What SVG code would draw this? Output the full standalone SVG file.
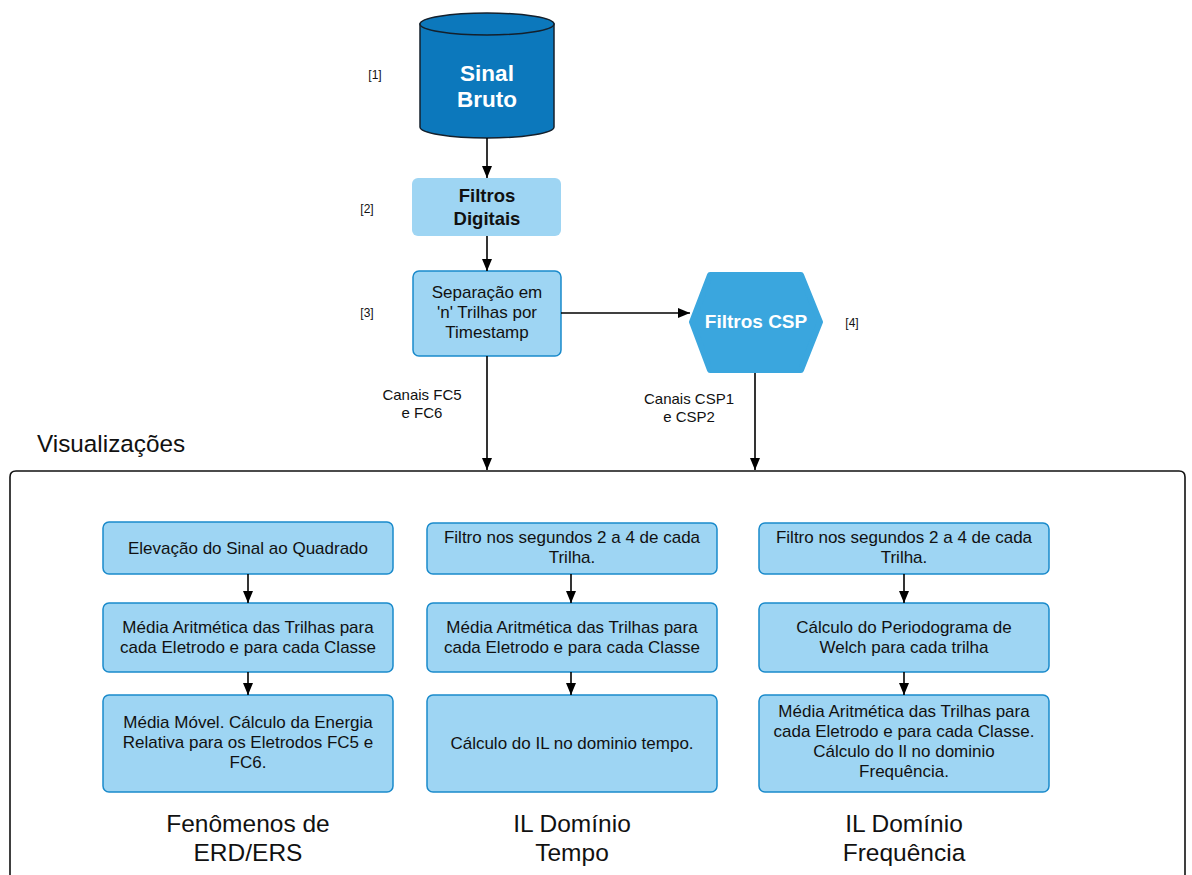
<svg xmlns="http://www.w3.org/2000/svg" width="1192" height="875" viewBox="0 0 1192 875">
  <defs>
    <marker id="arrow" viewBox="0 0 12 10" refX="12" refY="5" markerWidth="12" markerHeight="10" markerUnits="userSpaceOnUse" orient="auto">
      <path d="M0,0 L12,5 L0,10 Z" fill="#000"/>
    </marker>
    <style>
      text { font-family: "Liberation Sans", Arial, sans-serif; fill: #111; }
      .box { fill: #9ed5f3; stroke: #1a8acb; stroke-width: 1.5; }
      .t15 { font-size: 17px; text-anchor: middle; }
      .t14 { font-size: 15px; text-anchor: middle; }
      .tag { font-size: 12px; text-anchor: middle; }
      .title { font-size: 24.5px; text-anchor: middle; }
      .edge { stroke: #000; stroke-width: 1.6; fill: none; marker-end: url(#arrow); }
    </style>
  </defs>
  <rect width="1192" height="875" fill="#fff"/>

  <!-- step tags -->
  <text class="tag" x="375" y="79">[1]</text>
  <text class="tag" x="367" y="213">[2]</text>
  <text class="tag" x="367" y="317">[3]</text>
  <text class="tag" x="852" y="327">[4]</text>

  <!-- raw signal store -->
  <g id="sinal-bruto">
    <path d="M420,24 L420,127 A67,11 0 0 0 554,127 L554,24 Z" fill="#0c78bc" stroke="#14202c" stroke-width="1.5"/>
    <ellipse cx="487" cy="24" rx="67" ry="11" fill="#0c78bc" stroke="#14202c" stroke-width="1.5"/>
    <text x="487" y="81" style="font-size:22.5px;font-weight:bold;fill:#fff;text-anchor:middle">Sinal</text>
    <text x="487" y="107" style="font-size:22.5px;font-weight:bold;fill:#fff;text-anchor:middle">Bruto</text>
  </g>

  <g id="filtros-digitais">
    <rect x="412" y="178" width="149" height="58" rx="6" fill="#9ed5f3"/>
    <text x="487" y="202" style="font-size:18.5px;font-weight:bold;text-anchor:middle">Filtros</text>
    <text x="487" y="225" style="font-size:18.5px;font-weight:bold;text-anchor:middle">Digitais</text>
  </g>

  <g id="separacao">
    <rect class="box" x="413" y="271" width="148" height="85" rx="6"/>
    <text class="t15" x="487" y="298">Separação em</text>
    <text class="t15" x="487" y="318">'n' Trilhas por</text>
    <text class="t15" x="487" y="338">Timestamp</text>
  </g>

  <g id="filtros-csp">
    <polygon points="692,322 710,275 801,275 820,322 801,370 710,370" fill="#3aa6de" stroke="#3aa6de" stroke-width="6" stroke-linejoin="round"/>
    <text x="756" y="328" style="font-size:19px;font-weight:bold;fill:#fff;text-anchor:middle">Filtros CSP</text>
  </g>

  <!-- edge labels -->
  <text class="t14" x="422" y="400">Canais FC5</text>
  <text class="t14" x="422" y="418">e FC6</text>
  <text class="t14" x="689" y="404">Canais CSP1</text>
  <text class="t14" x="689" y="422">e CSP2</text>

  <!-- visualisation frame -->
  <g id="visualizacoes">
    <text x="37" y="452" style="font-size:24.3px">Visualizações</text>
    <path d="M10,890 L10,477 Q10,471 16,471 L1179,471 Q1185,471 1185,477 L1185,890" fill="none" stroke="#111" stroke-width="1.6"/>
  </g>

  <!-- column 1 -->
  <g id="c1-quadrado">
    <rect class="box" x="103" y="522" width="290" height="52" rx="6"/>
    <text class="t15" x="248" y="554">Elevação do Sinal ao Quadrado</text>
  </g>
  <g id="c1-media">
    <rect class="box" x="103" y="603" width="290" height="69" rx="6"/>
    <text class="t15" x="248" y="633">Média Aritmética das Trilhas para</text>
    <text class="t15" x="248" y="653">cada Eletrodo e para cada Classe</text>
  </g>
  <g id="c1-energia">
    <rect class="box" x="103" y="695" width="290" height="97" rx="6"/>
    <text class="t15" x="248" y="728">Média Móvel. Cálculo da Energia</text>
    <text class="t15" x="248" y="748">Relativa para os Eletrodos FC5 e</text>
    <text class="t15" x="248" y="768">FC6.</text>
  </g>
  <g id="c1-titulo">
    <text class="title" x="248" y="832">Fenômenos de</text>
    <text class="title" x="248" y="861">ERD/ERS</text>
  </g>

  <!-- column 2 -->
  <g id="c2-filtro">
    <rect class="box" x="427" y="523" width="290" height="51" rx="6"/>
    <text class="t15" x="572" y="543">Filtro nos segundos 2 a 4 de cada</text>
    <text class="t15" x="572" y="563">Trilha.</text>
  </g>
  <g id="c2-media">
    <rect class="box" x="427" y="603" width="290" height="69" rx="6"/>
    <text class="t15" x="572" y="633">Média Aritmética das Trilhas para</text>
    <text class="t15" x="572" y="653">cada Eletrodo e para cada Classe</text>
  </g>
  <g id="c2-il">
    <rect class="box" x="427" y="695" width="290" height="97" rx="6"/>
    <text class="t15" x="572" y="749">Cálculo do IL no dominio tempo.</text>
  </g>
  <g id="c2-titulo">
    <text class="title" x="572" y="832">IL Domínio</text>
    <text class="title" x="572" y="861">Tempo</text>
  </g>

  <!-- column 3 -->
  <g id="c3-filtro">
    <rect class="box" x="759" y="523" width="290" height="51" rx="6"/>
    <text class="t15" x="904" y="543">Filtro nos segundos 2 a 4 de cada</text>
    <text class="t15" x="904" y="563">Trilha.</text>
  </g>
  <g id="c3-welch">
    <rect class="box" x="759" y="603" width="290" height="69" rx="6"/>
    <text class="t15" x="904" y="633">Cálculo do Periodograma de</text>
    <text class="t15" x="904" y="653">Welch para cada trilha</text>
  </g>
  <g id="c3-il">
    <rect class="box" x="759" y="695" width="290" height="97" rx="6"/>
    <text class="t15" x="904" y="717">Média Aritmética das Trilhas para</text>
    <text class="t15" x="904" y="737">cada Eletrodo e para cada Classe.</text>
    <text class="t15" x="904" y="757">Cálculo do Il no dominio</text>
    <text class="t15" x="904" y="777">Frequência.</text>
  </g>
  <g id="c3-titulo">
    <text class="title" x="904" y="832">IL Domínio</text>
    <text class="title" x="904" y="861">Frequência</text>
  </g>

  <!-- connectors -->
  <g id="connectors">
    <line class="edge" x1="487" y1="138" x2="487" y2="178"/>
    <line class="edge" x1="487" y1="236" x2="487" y2="271"/>
    <line class="edge" x1="561" y1="313" x2="690" y2="313"/>
    <line class="edge" x1="487" y1="356" x2="487" y2="470"/>
    <line class="edge" x1="755" y1="373" x2="755" y2="470"/>
    <line class="edge" x1="248" y1="574" x2="248" y2="603"/>
    <line class="edge" x1="248" y1="672" x2="248" y2="695"/>
    <line class="edge" x1="571" y1="574" x2="571" y2="603"/>
    <line class="edge" x1="571" y1="672" x2="571" y2="695"/>
    <line class="edge" x1="904" y1="574" x2="904" y2="603"/>
    <line class="edge" x1="904" y1="672" x2="904" y2="695"/>
  </g>
</svg>
